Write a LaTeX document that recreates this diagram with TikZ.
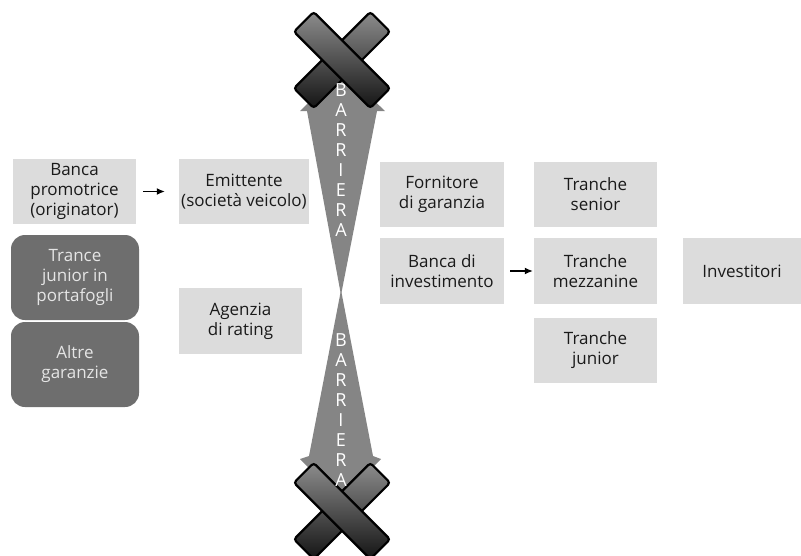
\documentclass[tikz,border=0pt]{standalone}
\usepackage{fontspec}
\setmainfont{Open Sans}
\usetikzlibrary{arrows.meta}
\definecolor{boxgray}{HTML}{DCDCDC}
\definecolor{darkbox}{HTML}{6E6E6E}
\definecolor{bargray}{HTML}{858585}
\definecolor{txt}{HTML}{1A1A1A}
\tikzset{
  lbox/.style={fill=boxgray, draw=none, align=center, text=txt, inner sep=0pt,
    font=\fontsize{17}{20}\selectfont},
  dbox/.style={fill=darkbox, draw=none, rounded corners=14pt, align=center, text=white!90!black,
    inner sep=0pt, minimum width=128pt, minimum height=85pt, font=\fontsize{17}{20}\selectfont},
  arr/.style={-{Latex[length=8pt,width=7pt]}, line width=1.2pt, black},
  xbar/.style={draw=black, line width=2.2pt, rounded corners=3pt, top color=black!45, bottom color=black!92},
  barrier/.style={fill=bargray, draw=none},
  blet/.style={text=white, font=\fontsize{18}{18}\selectfont, inner sep=0pt}
}
\begin{document}
\begin{tikzpicture}[x=1pt,y=-1pt]
\useasboundingbox (0,0) rectangle (801,555);
% boxes
\node[lbox, minimum width=123pt, minimum height=65pt] (banca) at (74.5,191.5) {Banca\\promotrice\\(originator)};
\node[lbox, minimum width=130pt, minimum height=65pt] (emitt) at (244,191.5) {Emittente\\(società veicolo)};
\node[dbox] (trance) at (75,277.5) {Trance\\junior in\\portafogli};
\node[dbox] (altre) at (75,364.5) {Altre\\garanzie};
\node[lbox, minimum width=123pt, minimum height=66pt] (agenzia) at (240.5,321) {Agenzia\\di rating};
\node[lbox, minimum width=124pt, minimum height=65pt] (forn) at (442,194.5) {Fornitore\\di garanzia};
\node[lbox, minimum width=123pt, minimum height=65pt] (senior) at (595.5,194.5) {Tranche\\senior};
\node[lbox, minimum width=124pt, minimum height=66pt] (binv) at (442,271) {Banca di\\investimento};
\node[lbox, minimum width=123pt, minimum height=66pt] (mezz) at (595.5,271) {Tranche\\mezzanine};
\node[lbox, minimum width=118pt, minimum height=66pt] (invest) at (742,271) {Investitori};
\node[lbox, minimum width=123pt, minimum height=65pt] (tjun) at (595.5,350.5) {Tranche\\junior};
% arrows
\draw[arr, shorten <=7pt, shorten >=14pt] (banca) -- (emitt);
\draw[arr, shorten <=6pt, shorten >=1pt] (binv) -- (mezz);
% barrier shapes
\fill[barrier] (342,70) -- (300,111) -- (307,111) -- (341,295) -- (377,111) -- (385,111) -- cycle;
\fill[barrier] (341,290) -- (309,456) -- (300,459) -- (341,500) -- (381,459) -- (373,456) -- cycle;
% top X
\begin{scope}[shift={(342,60)}]
  \path[xbar] [rotate=45] (-54,-14) rectangle (54,14);
  \path[xbar] [rotate=-45] (-54,-14) rectangle (54,14);
\end{scope}
% bottom X
\begin{scope}[shift={(342,511)}]
  \path[xbar] [rotate=45] (-54,-14) rectangle (54,14);
  \path[xbar] [rotate=-45] (-54,-14) rectangle (54,14);
\end{scope}
% letters
\foreach \l [count=\i from 0] in {B,A,R,R,I,E,R,A} {
  \node[blet] (t\i) at (341,90+20*\i) {\l};
  \node[blet] (b\i) at (341,340+20*\i) {\l};
}
\end{tikzpicture}
\end{document}
